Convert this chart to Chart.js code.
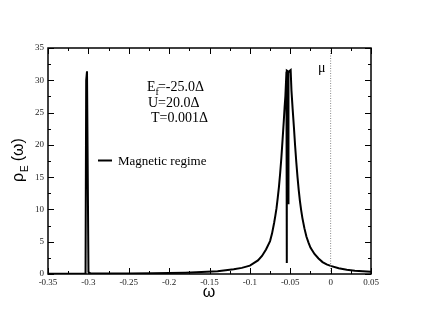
<!DOCTYPE html>
<html>
<head>
<meta charset="utf-8">
<script src="https://cdn.jsdelivr.net/npm/chart.js@4"></script>
<style>
  html, body { margin: 0; padding: 0; background: #fff; }
  canvas { display: block; }
</style>
</head>
<body>
<canvas id="dos" width="430" height="332"></canvas>
<script>
// -----------------------------
// Data
// -----------------------------
const omega = [
  -0.35, -0.33, -0.31, -0.305, -0.3035, -0.3027, -0.3019, -0.3017, -0.3007, -0.2999,
  -0.297, -0.29, -0.27, -0.25, -0.22, -0.2, -0.18, -0.16, -0.14, -0.12,
  -0.11, -0.1, -0.09, -0.085, -0.08, -0.075, -0.0725, -0.07, -0.0685, -0.067,
  -0.0655, -0.064, -0.0625, -0.061, -0.0595, -0.058, -0.057, -0.056, -0.0547, -0.0544,
  -0.0543, -0.0541, -0.053, -0.0525, -0.0523, -0.0521, -0.0505, -0.0495, -0.0485, -0.047,
  -0.0455, -0.044, -0.0425, -0.041, -0.0395, -0.038, -0.0365, -0.035, -0.0325, -0.03,
  -0.0275, -0.025, -0.02, -0.015, -0.01, -0.005, 0, 0.01, 0.02, 0.03,
  0.04, 0.05
];
const rho = [
  0.04, 0.045, 0.052, 0.055, 0.1, 30.0, 30.0, 31.4, 31.4, 0.3,
  0.06, 0.061, 0.073, 0.088, 0.12, 0.16, 0.21, 0.3, 0.44, 0.72,
  0.95, 1.3, 2.1, 2.8, 3.8, 5.1, 6.3, 7.9, 9.0, 10.2,
  11.8, 13.5, 15.6, 18.0, 20.8, 23.7, 25.8, 27.6, 31.3, 31.4,
  1.7, 31.5, 31.4, 31.3, 10.8, 31.2, 31.5, 31.6, 28.4, 25.5,
  22.8, 19.9, 17.3, 15.0, 13.0, 11.3, 9.9, 8.7, 7.1, 5.8,
  4.9, 4.1, 3.1, 2.4, 1.85, 1.5, 1.25, 0.88, 0.66, 0.51,
  0.41, 0.33
];

// chemical potential marker (dotted vertical line)
const muX = [0, 0];
const muY = [0, 35];

// axis ticks
const xTicks = [-0.35, -0.3, -0.25, -0.2, -0.15, -0.1, -0.05, 0, 0.05];
const xMinor = [-0.325, -0.275, -0.225, -0.175, -0.125, -0.075, -0.025, 0.025];
const yTicks = [0, 5, 10, 15, 20, 25, 30, 35];
const yMinor = [2.5, 7.5, 12.5, 17.5, 22.5, 27.5, 32.5];

// text
const paramLines = [["E", "f", "=-25.0\u0394"], ["U=20.0\u0394"], ["T=0.001\u0394"]];
const legendLabel = "Magnetic regime";
const serif = "'Liberation Serif', 'Times New Roman', serif";
const sans = "'Liberation Sans', Arial, sans-serif";

// -----------------------------
// Frame, inward ticks, labels
// -----------------------------
const gracePlugin = {
  id: "grace",
  afterDraw(chart) {
    const { ctx, chartArea: a, scales } = chart;
    const xs = scales.x, ys = scales.y;
    ctx.save();

    // ticks on all four sides, pointing inward
    ctx.strokeStyle = "#000";
    ctx.lineWidth = 1;
    const tickX = (v, len) => {
      const px = Math.round(xs.getPixelForValue(v)) + 0.5;
      ctx.beginPath();
      ctx.moveTo(px, a.bottom); ctx.lineTo(px, a.bottom - len);
      ctx.moveTo(px, a.top); ctx.lineTo(px, a.top + len);
      ctx.stroke();
    };
    const tickY = (v, len) => {
      const py = Math.round(ys.getPixelForValue(v)) + 0.5;
      ctx.beginPath();
      ctx.moveTo(a.left, py); ctx.lineTo(a.left + len, py);
      ctx.moveTo(a.right, py); ctx.lineTo(a.right - len, py);
      ctx.stroke();
    };
    xTicks.forEach((v) => tickX(v, 6));
    xMinor.forEach((v) => tickX(v, 3));
    yTicks.forEach((v) => tickY(v, 6));
    yMinor.forEach((v) => tickY(v, 3));

    // frame
    ctx.lineWidth = 1.5;
    ctx.strokeRect(a.left, a.top, a.right - a.left, a.bottom - a.top);

    ctx.fillStyle = "#000";
    ctx.textBaseline = "alphabetic";

    // parameter block
    ctx.font = "14px " + serif;
    let x = 147;
    ctx.fillText(paramLines[0][0], x, 91);
    x += ctx.measureText(paramLines[0][0]).width;
    ctx.font = "10px " + serif;
    ctx.fillText(paramLines[0][1], x, 95);
    x += ctx.measureText(paramLines[0][1]).width - 1;
    ctx.font = "14px " + serif;
    ctx.fillText(paramLines[0][2], x, 91);
    ctx.fillText(paramLines[1][0], 148, 107);
    ctx.fillText(paramLines[2][0], 151, 122);

    // mu label
    ctx.font = "14px " + serif;
    ctx.fillText("\u03bc", 318, 72);

    // legend
    ctx.lineWidth = 2;
    ctx.beginPath();
    ctx.moveTo(98, 160.5); ctx.lineTo(112, 160.5);
    ctx.stroke();
    ctx.font = "13px " + serif;
    ctx.fillText(legendLabel, 118, 165);

    // x axis title
    ctx.font = "16px " + sans;
    ctx.textAlign = "center";
    ctx.fillText("\u03c9", 209, 297);

    // y axis title (rotated)
    ctx.translate(23, 182);
    ctx.rotate(-Math.PI / 2);
    ctx.textAlign = "left";
    ctx.font = "16px " + sans;
    let t = 0;
    ctx.fillText("\u03c1", t, 0);
    t += ctx.measureText("\u03c1").width + 1;
    ctx.font = "10px " + sans;
    ctx.fillText("E", t, 5);
    t += ctx.measureText("E").width + 4;
    ctx.font = "16px " + sans;
    ctx.fillText("(\u03c9)", t, 0);

    ctx.restore();
  },
};

const fmt = (v) => String(+v.toFixed(2));

new Chart(document.getElementById("dos"), {
  type: "scatter",
  data: {
    datasets: [
      {
        label: "mu",
        data: muX.map((v, i) => ({ x: v, y: muY[i] })),
        showLine: true,
        pointRadius: 0,
        borderColor: "#8a8a8a",
        borderWidth: 1,
        borderDash: [1, 1.5],
      },
      {
        label: legendLabel,
        data: omega.map((v, i) => ({ x: v, y: rho[i] })),
        showLine: true,
        pointRadius: 0,
        borderColor: "#000",
        borderWidth: 2,
        tension: 0,
      },
    ],
  },
  options: {
    responsive: false,
    animation: false,
    devicePixelRatio: 1,
    layout: { padding: { top: 48, right: 59, left: 0, bottom: 0 } },
    plugins: { legend: { display: false }, tooltip: { enabled: false } },
    scales: {
      x: {
        type: "linear",
        min: -0.35,
        max: 0.05,
        grid: { display: false, drawTicks: false },
        border: { display: false },
        afterBuildTicks: (s) => { s.ticks = xTicks.map((v) => ({ value: v })); },
        afterFit: (s) => { s.height = 58; },
        ticks: {
          padding: 3,
          color: "#222",
          maxRotation: 0,
          autoSkip: false,
          font: { family: serif, size: 9 },
          callback: fmt,
        },
      },
      y: {
        min: 0,
        max: 35,
        grid: { display: false, drawTicks: false },
        border: { display: false },
        afterBuildTicks: (s) => { s.ticks = yTicks.map((v) => ({ value: v })); },
        afterFit: (s) => { s.width = 48; },
        ticks: {
          padding: 4,
          color: "#222",
          autoSkip: false,
          font: { family: serif, size: 9 },
          callback: fmt,
        },
      },
    },
  },
  plugins: [gracePlugin],
});
</script>
</body>
</html>
